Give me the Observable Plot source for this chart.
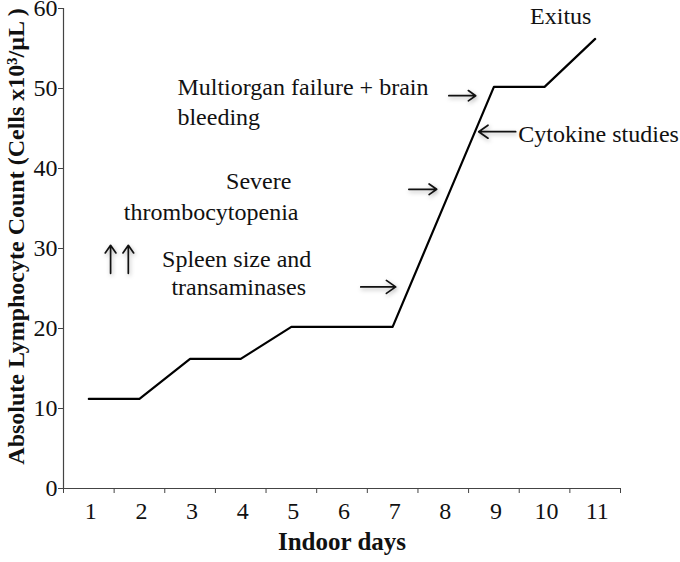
<!DOCTYPE html>
<html>
<head>
<meta charset="utf-8">
<script src="https://cdn.jsdelivr.net/npm/d3@7"></script>
<script src="https://cdn.jsdelivr.net/npm/@observablehq/plot@0.6"></script>
<style>
  html, body { margin: 0; padding: 0; background: #fff; }
  #chart { width: 680px; height: 562px; }
</style>
</head>
<body>
<div id="chart"></div>
<script>
// Data
const days = [1, 2, 3, 4, 5, 6, 7, 8, 9, 10, 11];
const counts = [11.2, 11.2, 16.2, 16.2, 20.2, 20.2, 20.2, 35.2, 50.2, 50.2, 56.2];
const yTicks = [0, 10, 20, 30, 40, 50, 60];
const dayBoundaries = [0.5, 1.5, 2.5, 3.5, 4.5, 5.5, 6.5, 7.5, 8.5, 9.5, 10.5, 11.5];

const xLabel = "Indoor days";
const yLabel = "Absolute Lymphocyte Count (Cells x10³/µL )";

// Annotations (text)
const noteText = ["Exitus", "Multiorgan failure + brain", "bleeding", "Severe", "thrombocytopenia", "Spleen size and", "transaminases", "Cytokine studies"];
const noteX = [10.32, 2.75, 2.75, 5.0, 5.14, 3.92, 3.96, 9.48];
const noteY = [59.0, 50.2, 46.4, 38.4, 34.5, 28.6, 25.1, 44.3];
const noteAnchor = ["middle", "start", "start", "end", "end", "middle", "middle", "start"];

// Annotations (arrows)
const arrowX1 = [8.11, 7.32, 6.37, 9.43, 1.43, 1.78];
const arrowY1 = [49.1, 37.4, 25.2, 44.6, 26.9, 26.9];
const arrowX2 = [8.64, 7.87, 7.06, 8.70, 1.43, 1.78];
const arrowY2 = [49.1, 37.4, 25.2, 44.6, 30.4, 30.4];

const series = days.map((d, i) => ({day: d, count: counts[i]}));
const notes = noteText.map((t, i) => ({text: t, x: noteX[i], y: noteY[i], anchor: noteAnchor[i]}));
const arrows = arrowX1.map((x, i) => ({x1: x, y1: arrowY1[i], x2: arrowX2[i], y2: arrowY2[i]}));

const font = "Liberation Serif, Times New Roman, serif";
const noteSize = 24;

const chart = Plot.plot({
  width: 680,
  height: 562,
  marginLeft: 63,
  marginRight: 60,
  marginTop: 8,
  marginBottom: 74,
  style: {fontFamily: font, background: "#fff", color: "#111", overflow: "visible"},
  x: {domain: [0.5, 11.5], label: null},
  y: {domain: [0, 60], label: null},
  marks: [
    Plot.ruleY([0], {stroke: "#444", strokeWidth: 1.2}),
    Plot.ruleX([0.5], {stroke: "#444", strokeWidth: 1.2}),
    Plot.axisY({ticks: yTicks, tickSize: 5, tickPadding: 1, fontSize: 24, label: null, stroke: "#444", tickFormat: d => d}),
    Plot.axisX({ticks: days, tickSize: 0, tickPadding: 13, fontSize: 24, label: null, dx: 2, tickFormat: d => d}),
    Plot.axisX({ticks: dayBoundaries, tickSize: 5, tickFormat: () => "", label: null, stroke: "#444"}),
    Plot.line(series, {x: "day", y: "count", stroke: "#000", strokeWidth: 2.2}),
    Plot.arrow(arrows, {x1: "x1", y1: "y1", x2: "x2", y2: "y2", stroke: "#111", strokeWidth: 1.7, headLength: 10, headAngle: 70}),
    Plot.text(notes.filter(d => d.anchor === "start"), {x: "x", y: "y", text: "text", textAnchor: "start", fontSize: noteSize, fill: "#111"}),
    Plot.text(notes.filter(d => d.anchor === "middle"), {x: "x", y: "y", text: "text", textAnchor: "middle", fontSize: noteSize, fill: "#111"}),
    Plot.text(notes.filter(d => d.anchor === "end"), {x: "x", y: "y", text: "text", textAnchor: "end", fontSize: noteSize, fill: "#111"}),
    Plot.text([xLabel], {frameAnchor: "bottom", textAnchor: "middle", lineAnchor: "middle", dy: 53, fontSize: 25, fontWeight: "bold", fill: "#111"}),
    Plot.text([yLabel], {frameAnchor: "left", textAnchor: "middle", lineAnchor: "middle", rotate: -90, dx: -47, dy: -12, fontSize: 24, fontWeight: "bold", fill: "#111"})
  ]
});
d3.select(chart).selectAll('g[aria-label="arrow"]').style("filter", "drop-shadow(1px 2px 2px rgba(0,0,0,0.3))");
document.getElementById("chart").appendChild(chart);
</script>
</body>
</html>
